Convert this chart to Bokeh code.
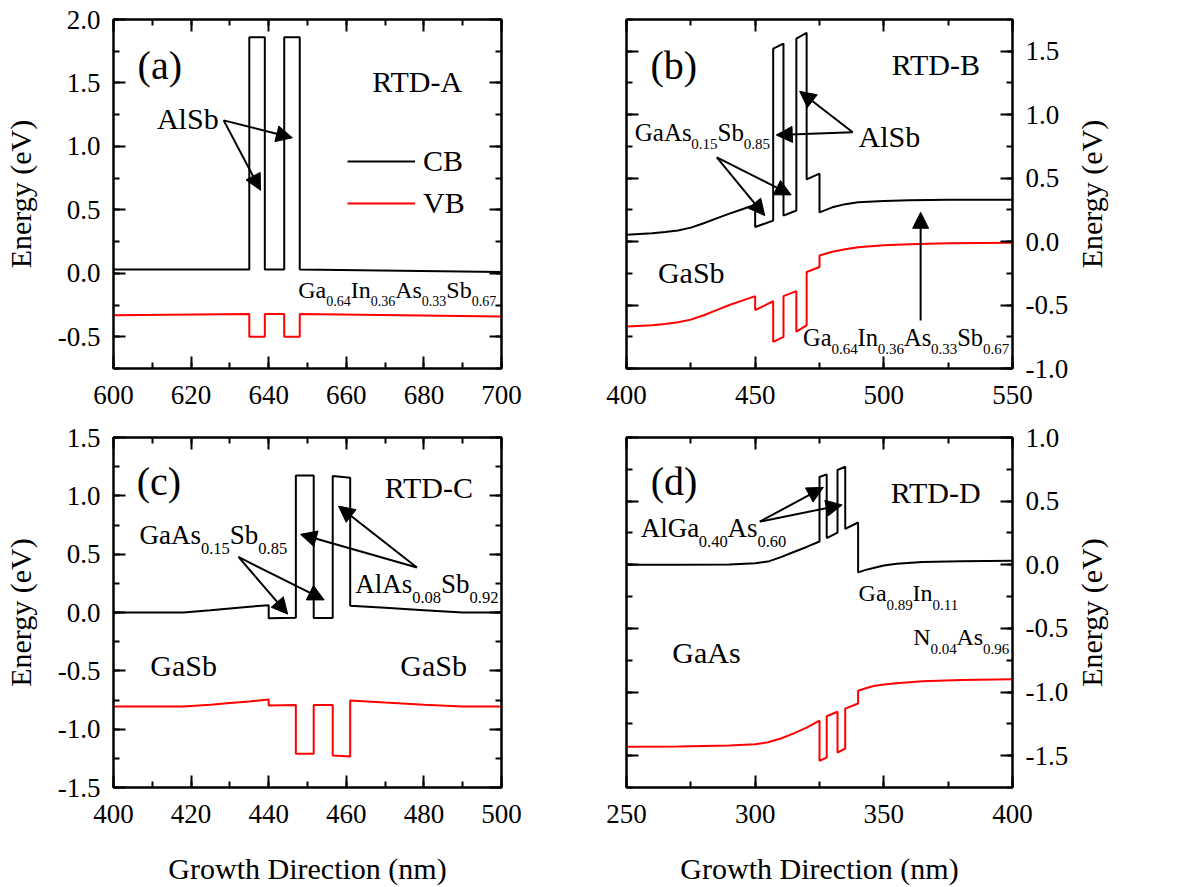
import math
from bokeh.plotting import figure
from bokeh.models import (LinearAxis, SingleIntervalTicker, Arrow, NormalHead,
                          Legend, LegendItem, Range1d, PrintfTickFormatter, ColumnDataSource)
from bokeh.core.properties import value
from bokeh.layouts import column, row
from bokeh.embed import file_html
from bokeh.resources import INLINE

FONT = "Liberation Serif"

# ---------------- data ----------------
# (a) RTD-A
a_x = [600, 635, 635, 639, 639, 644, 644, 648, 648, 700]
a_cb = [0.03, 0.03, 1.86, 1.86, 0.03, 0.03, 1.86, 1.86, 0.03, 0.01]
a_vb = [-0.33, -0.32, -0.50, -0.50, -0.32, -0.32, -0.50, -0.50, -0.32, -0.34]

# (b) RTD-B
b_x = [400, 410, 415, 420, 425, 430, 435, 440, 445, 450, 450, 457, 457, 461, 461,
       466, 466, 470, 470, 475, 475, 480, 485, 490, 500, 510, 525, 550]
b_cb = [0.053, 0.065, 0.075, 0.088, 0.11, 0.145, 0.183, 0.22, 0.255, 0.29, 0.115,
        0.165, 1.52, 1.56, 0.205, 0.245, 1.60, 1.645, 0.49, 0.535, 0.23, 0.27,
        0.295, 0.31, 0.32, 0.325, 0.33, 0.33]
b_vb = [-0.67, -0.66, -0.65, -0.635, -0.615, -0.58, -0.54, -0.50, -0.465, -0.43,
        -0.54, -0.47, -0.79, -0.75, -0.43, -0.39, -0.71, -0.66, -0.24, -0.20,
        -0.11, -0.08, -0.06, -0.045, -0.028, -0.02, -0.013, -0.01]

# (c) RTD-C
c_x = [400, 418, 425, 430, 435, 440, 440, 447, 447, 451.6, 451.6, 456.5, 456.5,
       461, 461, 470, 480, 490, 500]
c_cb = [0.0, 0.0, 0.02, 0.035, 0.05, 0.063, -0.05, -0.045, 1.175, 1.175, -0.047,
        -0.047, 1.17, 1.155, 0.057, 0.04, 0.02, 0.0, 0.0]
c_vb = [-0.806, -0.806, -0.79, -0.775, -0.762, -0.746, -0.798, -0.792, -1.21,
        -1.21, -0.792, -0.792, -1.225, -1.234, -0.755, -0.772, -0.79, -0.806, -0.806]

# (d) RTD-D
d_x = [250, 270, 290, 300, 305, 310, 315, 320, 325, 325, 327.8, 327.8, 332, 332,
       335, 335, 340, 340, 343, 346, 350, 355, 365, 380, 400]
d_cb = [0.0, 0.0, 0.003, 0.012, 0.025, 0.06, 0.10, 0.14, 0.183, 0.69, 0.71, 0.21,
        0.253, 0.745, 0.77, 0.282, 0.332, -0.06, -0.04, -0.025, -0.005, 0.008,
        0.021, 0.028, 0.031]
d_vb = [-1.43, -1.428, -1.42, -1.41, -1.395, -1.365, -1.325, -1.28, -1.225, -1.54,
        -1.515, -1.19, -1.155, -1.475, -1.445, -1.13, -1.09, -0.99, -0.97, -0.953,
        -0.94, -0.93, -0.915, -0.905, -0.90]

x_tick_step = {"a": 20, "b": 50, "c": 20, "d": 50}
y_tick_step = 0.5

# ---------------- helpers ----------------
W = {'G': 722, 'a': 444, 'A': 722, 's': 389, 'S': 556, 'b': 500, 'I': 333,
     'n': 500, 'N': 722, 'l': 278, '.': 250}
for _d in "0123456789":
    W[_d] = 500
MID = 0.335  # distance (in em) from the alphabetic baseline up to the text-box centre


def style_axis(ax, labels=True, standoff=13):
    ax.axis_line_width = 2
    ax.axis_line_color = "black"
    ax.major_tick_in = 12
    ax.major_tick_out = 0
    ax.minor_tick_in = 6
    ax.minor_tick_out = 0
    ax.major_tick_line_width = 2
    ax.minor_tick_line_width = 2
    ax.major_tick_line_color = "black"
    ax.minor_tick_line_color = "black"
    ax.major_label_text_font = FONT
    if labels:
        ax.major_label_text_color = "black"
        ax.major_label_text_font_size = "27px"
        ax.major_label_standoff = standoff
    else:
        ax.major_label_text_color = None
        ax.major_label_text_font_size = "0px"
        ax.major_label_standoff = 0
    ax.axis_label_text_font = FONT
    ax.axis_label_text_font_size = "30px"
    ax.axis_label_text_font_style = "normal"
    ax.axis_label_text_color = "black"


class Panel:
    def __init__(self, w, h, xr, yr, bl, br, bt, bb, yside, xstep, xlabel):
        p = figure(width=w, height=h, x_range=Range1d(*xr), y_range=Range1d(*yr),
                   output_backend="svg", toolbar_location=None,
                   y_axis_location=yside,
                   min_border_left=bl, min_border_right=br,
                   min_border_top=bt, min_border_bottom=bb)
        p.grid.visible = False
        p.outline_line_color = "black"
        p.outline_line_width = 2
        xt = SingleIntervalTicker(interval=xstep, num_minor_ticks=2)
        yt = SingleIntervalTicker(interval=y_tick_step, num_minor_ticks=2)
        p.xaxis.ticker = xt
        p.yaxis.ticker = yt
        p.yaxis.formatter = PrintfTickFormatter(format="%.1f")
        for ax in p.xaxis:
            style_axis(ax, True, 17)
            ax.axis_label = xlabel
            ax.axis_label_standoff = 26
        for ax in p.yaxis:
            style_axis(ax, True, 13)
            if yside == "left":
                ax.axis_label = "Energy (eV)"
                ax.axis_label_standoff = 18
        top = LinearAxis(ticker=xt)
        style_axis(top, False)
        p.add_layout(top, "above")
        other = LinearAxis(ticker=yt)
        style_axis(other, False)
        p.add_layout(other, "left" if yside == "right" else "right")
        self.p = p
        self.ppx = (w - bl - br) / float(xr[1] - xr[0])
        self.ppy = (h - bt - bb) / float(yr[1] - yr[0])
        self.seg = {"x": [], "y": [], "text": [], "size": []}

    def _add(self, x, drop_px, y, t, size):
        # y: data value of the alphabetic baseline; drop_px: extra shift downward in pixels
        ymid = y + (MID * size - drop_px) / self.ppy
        self.seg["x"].append(x)
        self.seg["y"].append(ymid)
        self.seg["text"].append(t)
        self.seg["size"].append(f"{size}px")

    def txt(self, x, y, t, size):
        self._add(x, 0, y, t, size)

    def chem(self, x, y, parts, main, sub, drop):
        off = 0.0
        for i, t in enumerate(parts):
            is_sub = (i % 2 == 1)
            size = sub if is_sub else main
            self._add(x + off / self.ppx, drop if is_sub else 0, y, t, size)
            off += sum(W[c] for c in t) / 1000.0 * size

    def arrow(self, x0, y0, x1, y1):
        self.p.add_layout(Arrow(end=NormalHead(size=16, fill_color="black", line_color="black"),
                                x_start=x0, y_start=y0, x_end=x1, y_end=y1,
                                line_width=2, line_color="black"))

    def finish(self):
        src = ColumnDataSource(self.seg)
        self.p.text(x="x", y="y", text="text", source=src, text_font=value(FONT),
                    text_font_size="size", text_align="left", text_baseline="middle",
                    text_color="black")
        return self.p


def side_label(w, h, bt, bb):
    q = figure(width=w, height=h, x_range=Range1d(0, 1), y_range=Range1d(0, 1),
               output_backend="svg", toolbar_location=None,
               min_border_left=34, min_border_right=0, min_border_top=bt, min_border_bottom=bb)
    q.outline_line_color = None
    q.grid.visible = False
    q.xaxis.visible = False
    ax = q.yaxis[0]
    style_axis(ax, False)
    ax.axis_line_color = None
    ax.major_tick_line_color = None
    ax.minor_tick_line_color = None
    ax.major_tick_in = 0
    ax.minor_tick_in = 0
    ax.axis_label = "Energy (eV)"
    ax.axis_label_standoff = 0
    return q


# ---------------- panel (a) ----------------
A = Panel(563, 418, (600, 700), (-0.75, 2.0), 113, 62, 19, 50, "left", x_tick_step["a"], None)
ra1 = A.p.line(a_x, a_cb, line_color="black", line_width=2)
ra2 = A.p.line(a_x, a_vb, line_color="red", line_width=2)
A.txt(606.2, 1.535, "(a)", 40)
A.txt(666.7, 1.435, "RTD-A", 30)
A.txt(611.2, 1.139, "AlSb", 30)
A.arrow(628.4, 1.205, 637.9, 0.654)
A.arrow(628.4, 1.205, 646.1, 1.068)
A.chem(647.6, -0.194, ["Ga", "0.64", "In", "0.36", "As", "0.33", "Sb", "0.67"], 24, 14, 8)
leg = Legend(items=[LegendItem(label="CB", renderers=[ra1]),
                    LegendItem(label="VB", renderers=[ra2])],
             location=(234, 148), glyph_width=68, glyph_height=30, label_height=30,
             label_standoff=8, spacing=8, padding=0, margin=0,
             border_line_alpha=0, background_fill_alpha=0,
             label_text_font=FONT, label_text_font_size="30px", label_text_color="black")
A.p.add_layout(leg)
pa = A.finish()

# ---------------- panel (b) ----------------
B = Panel(508, 418, (400, 550), (-1.0, 1.75), 63, 57, 19, 50, "right", x_tick_step["b"], None)
B.p.line(b_x, b_cb, line_color="black", line_width=2)
B.p.line(b_x, b_vb, line_color="red", line_width=2)
B.txt(409.3, 1.281, "(b)", 40)
B.txt(503.1, 1.315, "RTD-B", 30)
B.chem(403.2, 0.795, ["GaAs", "0.15", "Sb", "0.85"], 25, 15, 8)
B.arrow(435.1, 0.664, 453.7, 0.205)
B.arrow(435.1, 0.664, 464.0, 0.368)
B.txt(490.2, 0.75, "AlSb", 30)
B.arrow(487.9, 0.861, 458.2, 0.84)
B.arrow(487.9, 0.861, 467.3, 1.184)
B.txt(412.2, -0.32, "GaSb", 30)
B.arrow(514.3, -0.622, 514.3, 0.231)
B.chem(468.6, -0.819, ["Ga", "0.64", "In", "0.36", "As", "0.33", "Sb", "0.67"], 24.5, 15, 8)
pb = B.finish()

# ---------------- panel (c) ----------------
C = Panel(563, 469, (400, 500), (-1.5, 1.5), 113, 62, 19, 99, "left", x_tick_step["c"],
          "Growth Direction (nm)")
C.p.line(c_x, c_cb, line_color="black", line_width=2)
C.p.line(c_x, c_vb, line_color="red", line_width=2)
C.txt(406.0, 1.011, "(c)", 40)
C.txt(469.9, 0.989, "RTD-C", 30)
C.chem(406.7, 0.584, ["GaAs", "0.15", "Sb", "0.85"], 27, 16.5, 10)
C.arrow(432.2, 0.476, 444.9, -0.014)
C.arrow(432.2, 0.476, 454.3, 0.108)
C.chem(462.3, 0.171, ["AlAs", "0.08", "Sb", "0.92"], 27, 16.5, 10)
C.arrow(478.2, 0.385, 448.2, 0.67)
C.arrow(478.2, 0.385, 458.0, 0.912)
C.txt(409.5, -0.536, "GaSb", 30)
C.txt(473.9, -0.536, "GaSb", 30)
pc = C.finish()

# ---------------- panel (d) ----------------
D = Panel(508, 469, (250, 400), (-1.75, 1.0), 63, 57, 19, 99, "right", x_tick_step["d"],
          "Growth Direction (nm)")
D.p.line(d_x, d_cb, line_color="black", line_width=2)
D.p.line(d_x, d_vb, line_color="red", line_width=2)
D.txt(259.4, 0.548, "(d)", 40)
D.txt(352.7, 0.488, "RTD-D", 30)
D.chem(255.5, 0.217, ["AlGa", "0.40", "As", "0.60"], 27, 16.5, 10)
D.arrow(301.8, 0.339, 326.5, 0.608)
D.arrow(301.8, 0.339, 333.8, 0.47)
D.chem(340.2, -0.287, ["Ga", "0.89", "In", "0.11"], 24, 15, 9)
D.chem(361.4, -0.627, ["N", "0.04", "As", "0.96"], 24, 15, 9)
D.txt(267.8, -0.77, "GaAs", 30)
pd = D.finish()

sb = side_label(107, 418, 19, 50)
sd = side_label(107, 469, 19, 99)

layout = column(row(pa, pb, sb), row(pc, pd, sd))
open("out.html", "w").write(file_html(layout, INLINE))
